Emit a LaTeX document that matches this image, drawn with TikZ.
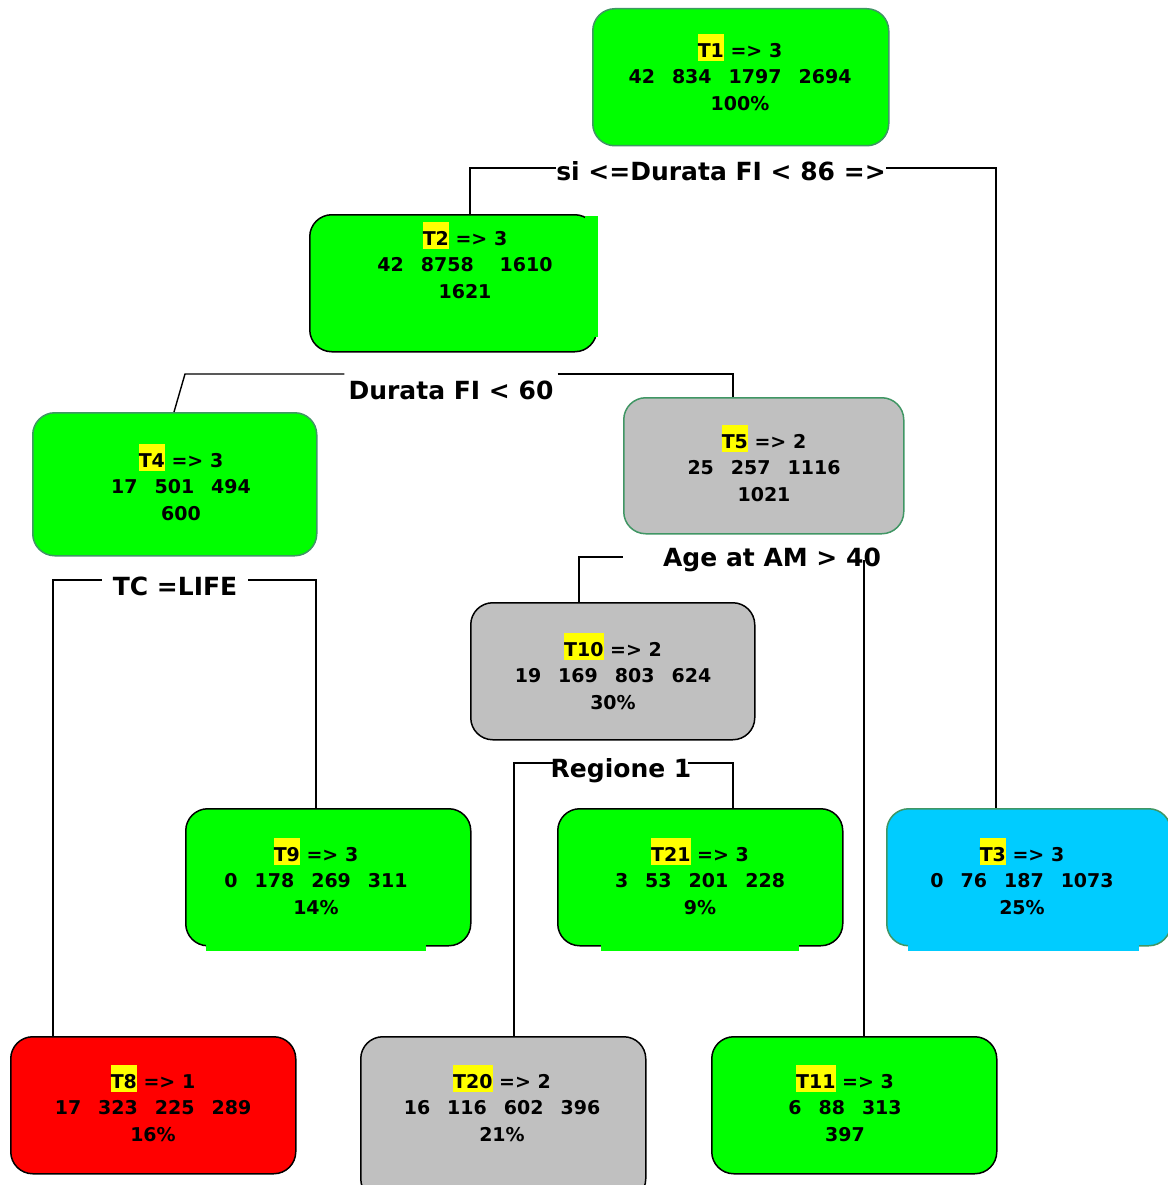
\documentclass[tikz,border=0pt]{standalone}
\usepackage{fontspec}
\setmainfont{DejaVu Sans}
\definecolor{ngreen}{RGB}{0,255,0}
\definecolor{ngray}{RGB}{192,192,192}
\definecolor{ncyan}{RGB}{0,204,255}
\definecolor{nred}{RGB}{255,0,0}
\definecolor{gborder}{RGB}{64,150,100}
\definecolor{hl}{RGB}{255,255,0}
\newcommand\hlt[1]{\smash{\setlength{\fboxsep}{0pt}\colorbox{hl}{\rule[-4pt]{0pt}{27pt}#1}}}
\newcommand\gp{\hspace{17pt}}
\begin{document}
\begin{tikzpicture}[x=1pt,y=-1pt,
  box/.style={rounded corners=22pt, line width=1.5pt, anchor=north west, inner sep=0pt},
  txt/.style={align=center, font=\fontsize{19}{26.5}\selectfont\bfseries, inner sep=0pt},
  lbl/.style={font=\fontsize{25}{30}\selectfont\bfseries, inner sep=0pt, anchor=base},
  conn/.style={line width=1.4pt, black}]
\useasboundingbox[fill=white] (0,0) rectangle (1167,1185);

% boxes
\node[box, draw=gborder, fill=ngreen, minimum width=296pt, minimum height=137pt] (T1) at (592,8) {};
\node[box, draw=black, fill=ngreen, minimum width=287pt, minimum height=137pt] (T2) at (309,214) {};
\fill[ngreen] (585,216) rectangle (598,337);
\node[box, draw=gborder, fill=ngreen, minimum width=284pt, minimum height=143pt] (T4) at (32,412) {};
\node[box, draw=gborder, fill=ngray, minimum width=280pt, minimum height=136pt] (T5) at (623,397) {};
\node[box, draw=black, fill=ngray, minimum width=284pt, minimum height=137pt] (T10) at (470,602) {};
\node[box, draw=black, fill=ngreen, minimum width=285pt, minimum height=137pt] (T9) at (185,808) {};
\fill[ngreen] (206,944) rectangle (426,951);
\node[box, draw=black, fill=ngreen, minimum width=285pt, minimum height=137pt] (T21) at (557,808) {};
\fill[ngreen] (601,944) rectangle (799,951);
\node[box, draw=gborder, fill=ncyan, minimum width=284pt, minimum height=137pt] (T3) at (886,808) {};
\fill[ncyan] (908,944) rectangle (1139,951);
\node[box, draw=black, fill=nred, minimum width=285pt, minimum height=137pt] (T8) at (10,1036) {};
\node[box, draw=black, fill=ngray, minimum width=285pt, minimum height=164pt] (T20) at (360,1036) {};
\node[box, draw=black, fill=ngreen, minimum width=285pt, minimum height=137pt] (T11) at (711,1036) {};

% texts
\node[txt] (t1) at (740,77) {\hlt{T1} => 3\\42\gp834\gp1797\gp2694\\100\%};
\node[txt] (t2) at (465,265) {\hlt{T2} => 3\\42\gp8758\hspace{26pt}1610\\1621};
\node[txt] (t4) at (181,487) {\hlt{T4} => 3\\17\gp501\gp494\\600};
\node[txt] (t5) at (764,468) {\hlt{T5} => 2\\25\gp257\gp1116\\1021};
\node[txt] (t10) at (613,676) {\hlt{T10} => 2\\19\gp169\gp803\gp624\\30\%};
\node[txt] (t9) at (316,881) {\hlt{T9} => 3\\0\gp178\gp269\gp311\\14\%};
\node[txt] (t21) at (700,881) {\hlt{T21} => 3\\3\gp53\gp201\gp228\\9\%};
\node[txt] (t3) at (1022,881) {\hlt{T3} => 3\\0\gp76\gp187\gp1073\\25\%};
\node[txt] (t8) at (153,1108) {\hlt{T8} => 1\\17\gp323\gp225\gp289\\16\%};
\node[txt] (t20) at (502,1108) {\hlt{T20} => 2\\16\gp116\gp602\gp396\\21\%};
\node[txt] (t11) at (845,1108) {\hlt{T11} => 3\\6\gp88\gp313\\397};

% split labels
\node[lbl] (L1) at (721,181) {si <=Durata FI < 86 =>};
\node[lbl, inner xsep=4pt] (L2) at (451,399) {Durata FI < 60};
\node[lbl, inner xsep=11pt] (L3) at (175,595) {TC =LIFE};
\node[lbl] (L4) at (772,566) {Age at AM > 40};
\node[lbl, inner xsep=-4pt] (L5) at (621,777) {Regione 1};

% connector bend points
\coordinate (c1l) at (470,168);
\coordinate (c1r) at (996,168);
\coordinate (c2l) at (185,374);
\coordinate (c2b) at (174,374);
\coordinate (c2r) at (733,374);
\coordinate (c3l) at (53,580);
\coordinate (c3r) at (316,580);
\coordinate (c4l) at (579,557);
\coordinate (c4e) at (623,557);
\coordinate (c4r) at (864,560);
\coordinate (c5l) at (514,763);
\coordinate (c5r) at (733,763);

% connectors
\draw[conn] (T2.north -| c1l) |- (L1.west |- c1l);
\draw[conn] (L1.east |- c1r) -| (T3.north -| c1r);
\draw[conn] (T4.north -| c2b) -- (c2l) -- (L2.west |- c2l);
\draw[conn] (L2.east |- c2r) -| (T5.north -| c2r);
\draw[conn] (T8.north -| c3l) |- (L3.west |- c3l);
\draw[conn] (L3.east |- c3r) -| (T9.north -| c3r);
\draw[conn] (T10.north -| c4l) |- (c4e);
\draw[conn] (c4r) -- (T11.north -| c4r);
\draw[conn] (T20.north -| c5l) |- (L5.west |- c5l);
\draw[conn] (L5.east |- c5r) -| (T21.north -| c5r);
\end{tikzpicture}
\end{document}
